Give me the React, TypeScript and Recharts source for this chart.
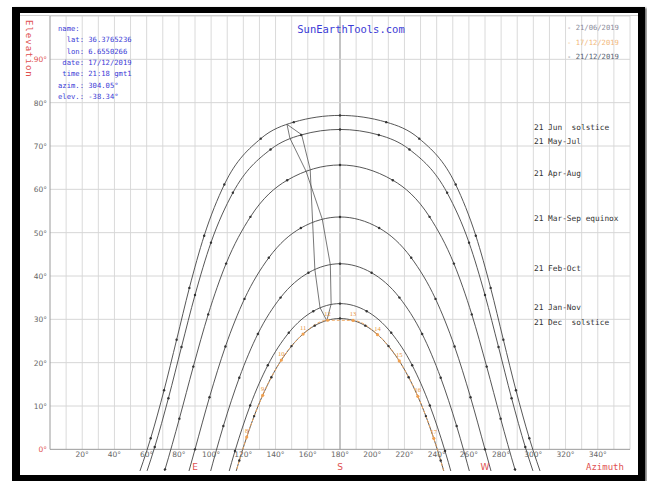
import React from 'react';
import { LineChart, Line, XAxis, YAxis, ReferenceLine, LabelList } from 'recharts';

// Sun paths [azimuth, elevation] (lat 36.38°N)
const junSolstice = [[53.3,-7.67],[62.5,2.56],[70.8,13.65],[78.6,25.3],[86.5,37.25],[95.7,49.3],[108.2,61.1],[130.8,71.7],[151.3,75.5],[180,77.06],[208.7,75.5],[229.2,71.7],[251.8,61.1],[264.3,49.3],[273.5,37.25],[281.4,25.3],[289.2,13.65],[297.5,2.56],[306.7,-7.67]];
const mayJul = [[55.6,-9.97],[65.0,0.53],[73.5,11.8],[81.6,23.6],[90,35.6],[99.9,47.7],[113.5,59.2],[136.9,69.2],[155.9,72.55],[180,73.82],[204.1,72.55],[223.1,69.2],[246.5,59.2],[260.1,47.7],[270,35.6],[278.4,23.6],[286.5,11.8],[295.0,0.53],[304.4,-9.97]];
const aprAug = [[61.6,-15.7],[71.4,-4.62],[80.3,7.08],[88.95,19.09],[98.2,31.14],[109.3,42.86],[124.4,53.65],[147.2,62.1],[180,65.62],[212.8,62.1],[235.6,53.65],[250.7,42.86],[261.8,31.14],[271.05,19.09],[279.7,7.08],[288.6,-4.62],[298.4,-15.7]];
const marSep = [[81,-12.03],[90,0],[99,12.03],[108.9,23.74],[120.7,34.71],[135.8,44.21],[155.7,51.07],[180,53.62],[204.3,51.07],[224.2,44.21],[239.3,34.71],[251.1,23.74],[261,12.03],[270,0],[279,-12.03]];
const febOct = [[98.7,-6.38],[107.6,5.37],[117.5,16.52],[129,26.63],[143.1,35.02],[160.4,40.75],[180,42.83],[199.6,40.75],[216.9,35.02],[231,26.63],[242.5,16.52],[252.4,5.37],[261.3,-6.38]];
const janNov = [[106.3,-11.7],[114.8,-0.4],[124.25,10.11],[135.2,19.41],[148.2,26.9],[163.4,31.88],[180,33.63],[196.6,31.88],[211.8,26.9],[224.8,19.41],[235.75,10.11],[245.2,-0.4],[253.7,-11.7]];
const decSolstice = [[109.2,-13.65],[117.5,-2.56],[126.7,7.67],[137.4,16.65],[149.9,23.82],[164.3,28.54],[180,30.19],[195.7,28.54],[210.1,23.82],[222.6,16.65],[233.3,7.67],[242.5,-2.56],[250.8,-13.65]];

// Current day 17/12/2019 (clock hours)
const todayAz = [113.4,122.1,132.0,143.6,157.1,172.3,188.1,203.3,216.8,228.3,238.2,246.8];
const todayEl = [-7.87,2.82,12.47,20.6,26.59,29.79,29.75,26.46,20.4,12.23,2.55,-8.16];
const todayHours = ['', '8', '9', '10', '11', '12', '13', '14', '15', '16', '17', ''];

// Noon (12:00) analemma branches
const analemmaA = [[147.1,75.0],[156.2,72.6],[161.5,64.6],[163,52.4],[164.4,41.5],[167.6,32.7],[171.8,29.7]];
const analemmaB = [[147.1,75.0],[148.9,71.8],[158.9,64.2],[169,53.1],[174,42.6],[174.5,33.5],[171.8,29.7]];

const azTicks = [20,40,60,80,100,120,140,160,180,200,220,240,260,280,300,320,340];
const elTicks = [0,10,20,30,40,50,60,70,80,90];
const azGrid = [10,20,30,40,50,60,70,80,90,100,110,120,130,140,150,160,170,180,190,200,210,220,230,240,250,260,270,280,290,300,310,320,330,340,350,360];
const elGrid = [10,20,30,40,50,60,70,80,90,100];

const pathLabels = [
  { text: '21 Jun  solstice', y: 130 },
  { text: '21 May-Jul', y: 144 },
  { text: '21 Apr-Aug', y: 176 },
  { text: '21 Mar-Sep equinox', y: 221 },
  { text: '21 Feb-Oct', y: 271 },
  { text: '21 Jan-Nov', y: 310 },
  { text: '21 Dec  solstice', y: 325 },
];
const infoLines = ['name:', '  lat: 36.3765236', '  lon: 6.6550266', ' date: 17/12/2019', ' time: 21:18 gmt1', 'azim.: 304.05°', 'elev.: -38.34°'];
const legendItems = [
  { text: '- 21/06/2019', color: '#8a8a9a' },
  { text: '- 17/12/2019', color: '#f2b87a' },
  { text: '- 21/12/2019', color: '#556070' },
];

const toPts = (arr: number[][]) => arr.map(([az, el]) => ({ az, el }));
const todayData = todayAz.map((az, i) => ({ az, el: todayEl[i], h: todayHours[i] }));

const paths = [junSolstice, mayJul, aprAug, marSep, febOct, janNov, decSolstice];

const AzTick = (p: any) => (
  <text x={p.x} y={p.y - 14} textAnchor="middle" fontSize={7.5} fill="#666" fontFamily="DejaVu Sans">
    {p.payload.value}°
  </text>
);
const ElTick = (p: any) => {
  const v = p.payload.value;
  return (
    <text x={p.x} y={p.y + 3} textAnchor="end" fontSize={7.5} fill={v === 0 || v === 90 ? '#e05050' : '#666'} fontFamily="DejaVu Sans">
      {v}°
    </text>
  );
};

export default function App() {
  return (
    <div style={{ position: 'absolute', left: 0, top: 0, width: 647, height: 481, background: '#fff', overflow: 'hidden' }}>
      <div style={{ position: 'absolute', left: 12, top: 7, width: 633, height: 474, boxSizing: 'border-box', borderStyle: 'solid', borderColor: '#000', borderWidth: '6px 7px 6px 8px', background: '#fff', boxShadow: '2px 1px 2px #777' }} />
      <div style={{ position: 'absolute', left: 0, top: 0 }}>
        <LineChart width={647} height={481} margin={{ top: 16, right: 17, left: 20, bottom: 0 }}>
          <XAxis type="number" dataKey="az" domain={[0, 360]} allowDataOverflow ticks={azTicks} tick={AzTick} axisLine={false} tickLine={false} tickSize={0} tickMargin={0} height={10} interval={0} />
          <YAxis type="number" dataKey="el" domain={[-5, 100]} allowDataOverflow ticks={elTicks} tick={ElTick} axisLine={false} tickLine={false} tickSize={0} tickMargin={3} width={30} interval={0} />
          {azGrid.map((a) => (
            <ReferenceLine key={'v' + a} segment={[{ x: a, y: 0 }, { x: a, y: 100 }]} stroke={a === 180 ? '#888' : '#dadada'} strokeWidth={1} />
          ))}
          {elGrid.map((e) => (
            <ReferenceLine key={'h' + e} segment={[{ x: 0, y: e }, { x: 360, y: e }]} stroke="#d6d6d6" strokeWidth={1} />
          ))}
          <ReferenceLine segment={[{ x: 0, y: 0 }, { x: 360, y: 0 }]} stroke="#9a9a9a" strokeWidth={1} />
          <ReferenceLine segment={[{ x: 0, y: 0 }, { x: 0, y: 100 }]} stroke="#9a9a9a" strokeWidth={1} />
          {paths.map((p, i) => (
            <Line key={'p' + i} data={toPts(p)} dataKey="el" type="monotone" stroke="#444" strokeWidth={0.9} dot={{ r: 1.2, fill: '#333', stroke: 'none' }} isAnimationActive={false} />
          ))}
          <Line data={todayData} dataKey="el" type="monotone" stroke="#f0a860" strokeWidth={1} strokeDasharray="3 2" dot={{ r: 1.6, fill: '#f0a050', stroke: 'none' }} isAnimationActive={false}>
            <LabelList dataKey="h" position="top" offset={4} fontSize={6.5} fill="#e8953a" />
          </Line>
          <Line data={toPts(analemmaA)} dataKey="el" type="linear" stroke="#555" strokeWidth={0.8} dot={false} isAnimationActive={false} />
          <Line data={toPts(analemmaB)} dataKey="el" type="linear" stroke="#555" strokeWidth={0.8} dot={false} isAnimationActive={false} />
        </LineChart>
      </div>
      <svg width={647} height={481} style={{ position: 'absolute', left: 0, top: 0, pointerEvents: 'none' }}>
        <line x1={20} y1={15.5} x2={638} y2={15.5} stroke="#cfcfcf" strokeWidth={1} />
        <text x={26} y={20} transform="rotate(90 26 20)" fontSize={9} fill="#e05050" fontFamily="DejaVu Sans Mono" letterSpacing={1}>Elevation</text>
        <text x={351} y={33} textAnchor="middle" fontSize={10.5} fill="#3b3bd6" fontFamily="DejaVu Sans Mono">SunEarthTools.com</text>
        {infoLines.map((t, i) => (
          <text key={'i' + i} x={58} y={31 + i * 11.3} fontSize={7.2} fill="#3b3bd6" fontFamily="DejaVu Sans Mono" style={{ whiteSpace: 'pre' }}>{t}</text>
        ))}
        {legendItems.map((l, i) => (
          <text key={'l' + i} x={567} y={30 + i * 14.5} fontSize={7.2} fill={l.color} fontFamily="DejaVu Sans Mono">{l.text}</text>
        ))}
        {pathLabels.map((l, i) => (
          <text key={'c' + i} x={534} y={l.y} fontSize={7.8} fill="#333" fontFamily="DejaVu Sans Mono" style={{ whiteSpace: 'pre' }}>{l.text}</text>
        ))}
        <text x={195} y={470} textAnchor="middle" fontSize={9} fill="#e05050" fontFamily="DejaVu Sans">E</text>
        <text x={340} y={470} textAnchor="middle" fontSize={9} fill="#e05050" fontFamily="DejaVu Sans">S</text>
        <text x={485} y={470} textAnchor="middle" fontSize={9} fill="#e05050" fontFamily="DejaVu Sans">W</text>
        <text x={605} y={470} textAnchor="middle" fontSize={9} fill="#e05050" fontFamily="DejaVu Sans Mono">Azimuth</text>
      </svg>
    </div>
  );
}
